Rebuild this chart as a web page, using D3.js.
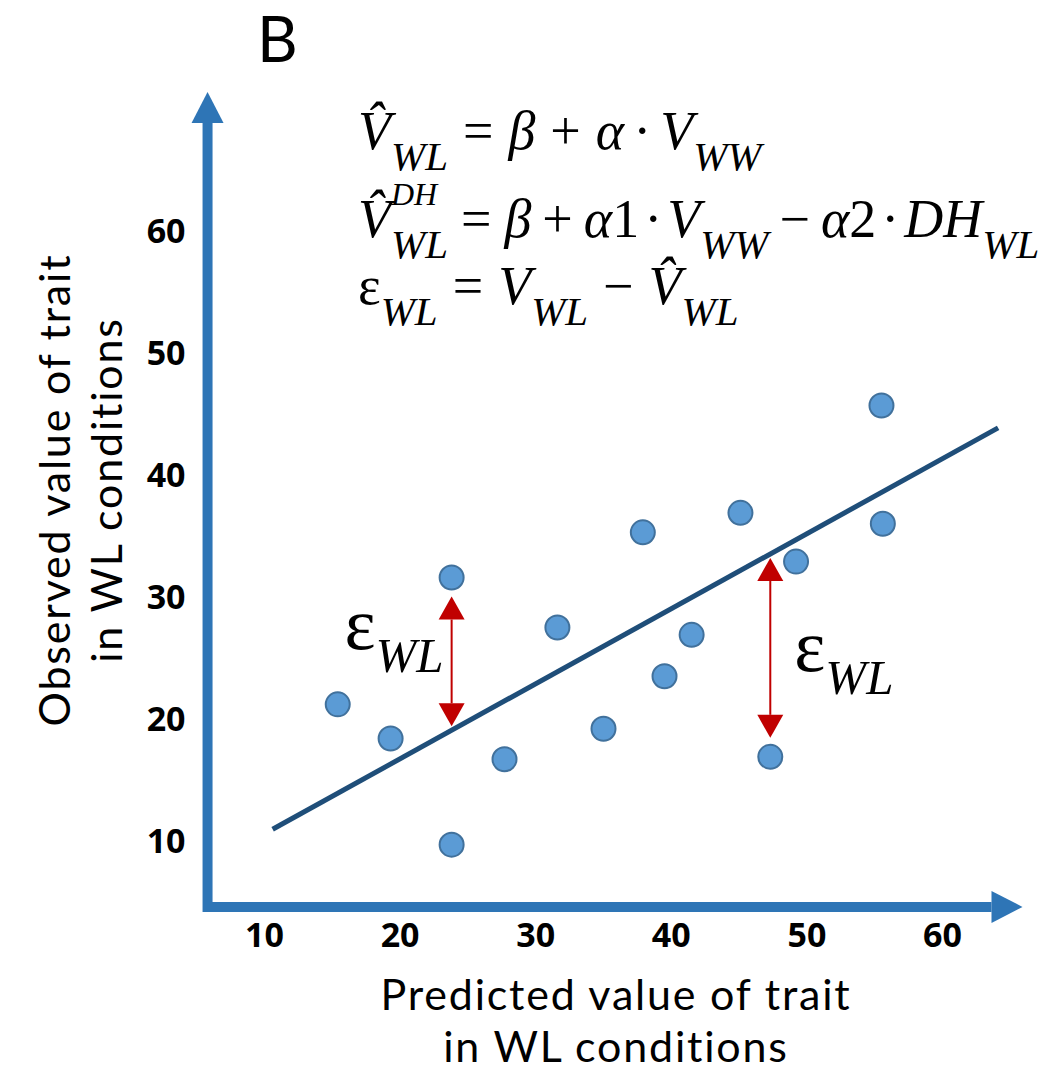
<!DOCTYPE html>
<html><head><meta charset="utf-8">
<script src="https://cdn.jsdelivr.net/npm/d3@7"></script>
<style>html,body{margin:0;padding:0;background:#fff}</style>
</head><body>
<svg id="chart" width="1048" height="1077"></svg>
<script>
// Observed vs predicted value of a trait under WL conditions
const predicted = [15.4, 19.3, 23.8, 23.8, 27.7, 31.6, 35.0, 37.9, 39.5, 41.5, 45.1, 47.3, 49.2, 55.5, 55.6];
const observed  = [21.2, 18.4, 31.6, 9.7, 16.7, 27.5, 19.2, 35.3, 23.5, 26.9, 36.9, 16.9, 32.9, 45.7, 36.0];
const xTicks = [10, 20, 30, 40, 50, 60];
const yTicks = [10, 20, 30, 40, 50, 60];
// fitted line  V̂ = β + α·V
const fitBeta = 4.44;
const fitAlpha = 0.615;
const fitRange = [10.6, 64.1];
// points whose residuals are annotated
const residualPoints = [2, 11];

const W = 1048, H = 1077;
const svg = d3.select('#chart');
svg.append('rect').attr('width', W).attr('height', H).attr('fill', '#fff');

const x = d3.scaleLinear().domain([10, 60]).range([264.5, 942.5]);
const y = d3.scaleLinear().domain([10, 60]).range([841, 231]);

// axis extents in data units (origin corner and arrow tips)
const axisX = [5.8, 65.9];
const axisY = [4.6, 71.4];

const AXIS = '#2E75B6', LINE = '#1F4E79', PT = '#5B9BD5', PT_STROKE = '#41719C', RED = '#C00000';
const SANS = "'Open Sans', 'Noto Sans', sans-serif";
const TITLE = "Lato, 'Open Sans', sans-serif";
const SERIF = "'Liberation Serif', 'DejaVu Serif', serif";

// ---- axes with arrow heads ----
const ox = x(axisX[0]), oy = y(axisY[0]);
const tipX = x(axisX[1]), tipY = y(axisY[1]);
const headLen = 31, headHalf = 16;
svg.append('path')
  .attr('d', `M${ox},${tipY + headLen} L${ox},${oy} L${tipX - headLen},${oy}`)
  .attr('fill', 'none').attr('stroke', AXIS).attr('stroke-width', 10)
  .attr('stroke-linejoin', 'miter');
svg.append('path')
  .attr('d', `M${ox},${tipY} L${ox - headHalf},${tipY + headLen} L${ox + headHalf},${tipY + headLen}Z`)
  .attr('fill', AXIS);
svg.append('path')
  .attr('d', `M${tipX},${oy} L${tipX - headLen},${oy - headHalf} L${tipX - headLen},${oy + headHalf}Z`)
  .attr('fill', AXIS);

// ---- tick labels ----
svg.append('g').selectAll('text').data(xTicks).join('text')
  .attr('x', d => x(d)).attr('y', oy + 40)
  .attr('text-anchor', 'middle')
  .attr('font-family', SANS).attr('font-weight', 700).attr('font-size', 34)
  .text(d => d);
svg.append('g').selectAll('text').data(yTicks).join('text')
  .attr('x', ox - 22).attr('y', d => y(d)).attr('dy', '0.36em')
  .attr('text-anchor', 'end')
  .attr('font-family', SANS).attr('font-weight', 700).attr('font-size', 34)
  .text(d => d);

// ---- axis titles ----
const titleSize = 43, titleSpacing = 1.8;
function title(transform, text) {
  svg.append('text').attr('text-anchor', 'middle')
    .attr('transform', transform)
    .attr('font-family', TITLE).attr('font-size', titleSize)
    .attr('letter-spacing', titleSpacing)
    .text(text);
}
title('translate(616,1010)', 'Predicted value of trait');
title('translate(616,1062)', 'in WL conditions');
title('translate(70,490) rotate(-90)', 'Observed value of trait');
title('translate(122,490) rotate(-90)', 'in WL conditions');

// ---- panel letter ----
svg.append('text').attr('x', 257).attr('y', 62)
  .attr('font-family', TITLE).attr('font-size', 63).text('B');

// ---- regression line ----
svg.append('line')
  .attr('x1', x(fitRange[0])).attr('y1', y(fitBeta + fitAlpha * fitRange[0]))
  .attr('x2', x(fitRange[1])).attr('y2', y(fitBeta + fitAlpha * fitRange[1]))
  .attr('stroke', LINE).attr('stroke-width', 5);

// ---- points ----
const R = 12;
svg.append('g').selectAll('circle').data(predicted.map((p, i) => [p, observed[i]])).join('circle')
  .attr('cx', d => x(d[0])).attr('cy', d => y(d[1])).attr('r', R)
  .attr('fill', PT).attr('stroke', PT_STROKE).attr('stroke-width', 2);

// ---- residual arrows ----
const aLen = 23, aHalf = 13;
const labelSpec = [{ side: 'left', dy: -12 }, { side: 'right', dy: 23 }];
residualPoints.forEach((i, k) => {
  const px = x(predicted[i]);
  const py = y(observed[i]);
  const fy = y(fitBeta + fitAlpha * predicted[i]);
  const dir = Math.sign(fy - py); // +1 when the line lies below the point
  const endP = py + dir * (R + 7);
  const endL = fy - dir * 4;
  const g = svg.append('g');
  g.append('line').attr('x1', px).attr('x2', px)
    .attr('y1', endP + dir * aLen).attr('y2', endL - dir * aLen)
    .attr('stroke', RED).attr('stroke-width', 2);
  g.append('path')
    .attr('d', `M${px},${endP} L${px - aHalf},${endP + dir * aLen} L${px + aHalf},${endP + dir * aLen}Z`)
    .attr('fill', RED);
  g.append('path')
    .attr('d', `M${px},${endL} L${px - aHalf},${endL - dir * aLen} L${px + aHalf},${endL - dir * aLen}Z`)
    .attr('fill', RED);
  const mid = (endP + endL) / 2;
  const spec = labelSpec[k];
  const t = g.append('text')
    .attr('x', spec.side === 'left' ? px - 8 : px + 24)
    .attr('y', mid + spec.dy)
    .attr('text-anchor', spec.side === 'left' ? 'end' : 'start')
    .attr('font-family', SERIF);
  t.append('tspan').attr('font-size', 74).text('ε');
  t.append('tspan').attr('font-size', 49).attr('font-style', 'italic').attr('dy', 23).text('WL');
});

// ---- equations ----
function mathLine(x0, base, pieces) {
  const sizes = { main: 54, sub: 41, sup: 32 };
  const shift = { main: 0, sub: 21, sup: -32 };
  let cx = x0;
  pieces.forEach(p => {
    cx += p.gap || 0;
    const lvl = p.lvl || 'main';
    const t = svg.append('text')
      .attr('x', cx).attr('y', base + shift[lvl])
      .attr('font-family', SERIF)
      .attr('font-style', p.it ? 'italic' : 'normal')
      .attr('font-size', sizes[lvl])
      .attr('fill', '#000')
      .text(p.t);
    if (!p.stack) cx += t.node().getComputedTextLength();
  });
}
const sp = 15, dot = 9;
mathLine(358, 149, [
  { t: 'V\u0302', it: true }, { t: 'WL', it: true, lvl: 'sub' },
  { t: '=', gap: sp }, { t: 'β', it: true, gap: sp }, { t: '+', gap: sp },
  { t: 'α', it: true, gap: sp }, { t: '·', gap: dot }, { t: 'V', it: true, gap: dot },
  { t: 'WW', it: true, lvl: 'sub' }
]);
// the long second line uses tighter operator spacing
const sp2 = 11, dot2 = 5;
mathLine(358, 237, [
  { t: 'V\u0302', it: true }, { t: 'DH', it: true, lvl: 'sup', stack: true },
  { t: 'WL', it: true, lvl: 'sub' },
  { t: '=', gap: sp2 + 2 }, { t: 'β', it: true, gap: sp2 + 2 }, { t: '+', gap: sp2 },
  { t: 'α', it: true, gap: sp2 }, { t: '1' }, { t: '·', gap: dot2 }, { t: 'V', it: true, gap: dot2 },
  { t: 'WW', it: true, lvl: 'sub' }, { t: '\u2212', gap: sp2 }, { t: 'α', it: true, gap: sp2 },
  { t: '2' }, { t: '·', gap: dot2 }, { t: 'DH', it: true, gap: dot2 }, { t: 'WL', it: true, lvl: 'sub' }
]);
mathLine(358, 304, [
  { t: 'ε' }, { t: 'WL', it: true, lvl: 'sub' },
  { t: '=', gap: sp }, { t: 'V', it: true, gap: sp }, { t: 'WL', it: true, lvl: 'sub' },
  { t: '\u2212', gap: sp }, { t: 'V\u0302', it: true, gap: sp }, { t: 'WL', it: true, lvl: 'sub' }
]);
</script>
</body></html>
